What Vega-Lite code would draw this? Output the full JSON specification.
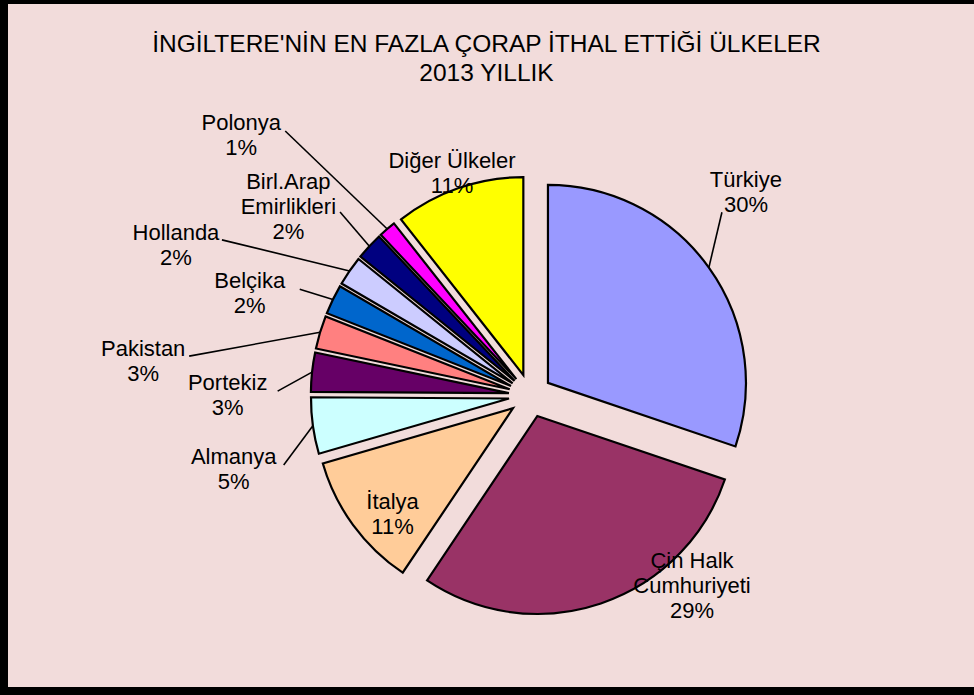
{
  "$schema": "https://vega.github.io/schema/vega-lite/v6.json",
  "width": 984,
  "height": 691,
  "autosize": {"type": "none"},
  "padding": {"left": 4, "top": 0, "right": -14, "bottom": 4},
  "background": "#F2DCDB",
  "config": {
    "view": {"stroke": "black", "strokeWidth": 8, "fill": null},
    "text": {"font": "Liberation Sans", "fontSize": 22, "lineBreak": "\n", "lineHeight": 25, "align": "center", "baseline": "middle", "color": "black", "x": 526.4, "y": 395.5},
    "rule": {"color": "black", "strokeWidth": 1.6}
  },
  "title": {
    "text": ["İNGİLTERE'NİN EN FAZLA ÇORAP İTHAL ETTİĞİ ÜLKELER", "2013 YILLIK"],
    "font": "Liberation Sans",
    "fontSize": 24.5,
    "fontWeight": "normal",
    "color": "black",
    "anchor": "middle",
    "baseline": "bottom",
    "lineHeight": 29,
    "offset": -110,
    "dx": -9.5
  },
  "data": {
    "values": [
      {"order": 1, "name": "Türkiye", "share": 0.302, "label": "Türkiye\n30%"},
      {"order": 2, "name": "Çin Halk Cumhuriyeti", "share": 0.292, "label": "Çin Halk\nCumhuriyeti\n29%"},
      {"order": 3, "name": "İtalya", "share": 0.111, "label": "İtalya\n11%"},
      {"order": 4, "name": "Almanya", "share": 0.046, "label": "Almanya\n5%"},
      {"order": 5, "name": "Portekiz", "share": 0.032, "label": "Portekiz\n3%"},
      {"order": 6, "name": "Pakistan", "share": 0.027, "label": "Pakistan\n3%"},
      {"order": 7, "name": "Belçika", "share": 0.024, "label": "Belçika\n2%"},
      {"order": 8, "name": "Hollanda", "share": 0.024, "label": "Hollanda\n2%"},
      {"order": 9, "name": "Birl.Arap Emirlikleri", "share": 0.022, "label": "Birl.Arap\nEmirlikleri\n2%"},
      {"order": 10, "name": "Polonya", "share": 0.014, "label": "Polonya\n1%"},
      {"order": 11, "name": "Diğer Ülkeler", "share": 0.106, "label": "Diğer Ülkeler\n11%"}
    ]
  },
  "transform": [
    {"stack": "share", "groupby": [], "sort": [{"field": "order", "order": "ascending"}], "as": ["s0", "s1"]}
  ],
  "layer": [
    {
      "transform": [{"filter": {"field": "name", "oneOf": ["Türkiye"]}}],
      "mark": {"type": "rule"},
      "encoding": {
        "x": {"value": {"expr": "526.4 + 219.6 * sin(PI * (datum.s0 + datum.s1))"}},
        "y": {"value": {"expr": "395.5 - 219.6 * cos(PI * (datum.s0 + datum.s1))"}},
        "x2": {"value": {"expr": "526.4 + 305 * sin(PI * (datum.s0 + datum.s1) - 0.164) - 24"}},
        "y2": {"value": {"expr": "395.5 - 305 * cos(PI * (datum.s0 + datum.s1) - 0.164) + 32.5"}}
      }
    },
    {
      "transform": [{"filter": {"field": "name", "oneOf": ["Birl.Arap Emirlikleri"]}}],
      "mark": {"type": "rule"},
      "encoding": {
        "x": {"value": {"expr": "526.4 + 219.6 * sin(PI * (datum.s0 + datum.s1))"}},
        "y": {"value": {"expr": "395.5 - 219.6 * cos(PI * (datum.s0 + datum.s1))"}},
        "x2": {"value": {"expr": "526.4 + 323 * sin(PI * (datum.s0 + datum.s1) - 0.024) + 51.7"}},
        "y2": {"value": {"expr": "395.5 - 323 * cos(PI * (datum.s0 + datum.s1) - 0.024) + 30.4"}}
      }
    },
    {
      "transform": [{"filter": {"field": "name", "oneOf": ["Polonya"]}}],
      "mark": {"type": "rule"},
      "encoding": {
        "x": {"value": {"expr": "526.4 + 219.6 * sin(PI * (datum.s0 + datum.s1))"}},
        "y": {"value": {"expr": "395.5 - 219.6 * cos(PI * (datum.s0 + datum.s1))"}},
        "x2": {"value": {"expr": "526.4 + 397 * sin(PI * (datum.s0 + datum.s1) - 0.106) + 44"}},
        "y2": {"value": {"expr": "395.5 - 397 * cos(PI * (datum.s0 + datum.s1) - 0.106) + 7.5"}}
      }
    },
    {
      "transform": [{"filter": {"field": "name", "oneOf": ["Hollanda", "Pakistan"]}}],
      "mark": {"type": "rule"},
      "encoding": {
        "x": {"value": {"expr": "526.4 + 219.6 * sin(PI * (datum.s0 + datum.s1))"}},
        "y": {"value": {"expr": "395.5 - 219.6 * cos(PI * (datum.s0 + datum.s1))"}},
        "x2": {"value": {"expr": "526.4 + 390 * sin(PI * (datum.s0 + datum.s1) - 0.173) + 46"}},
        "y2": {"value": {"expr": "395.5 - 390 * cos(PI * (datum.s0 + datum.s1) - 0.173) + 7"}}
      }
    },
    {
      "transform": [{"filter": {"field": "name", "oneOf": ["Almanya", "Portekiz", "Belçika"]}}],
      "mark": {"type": "rule"},
      "encoding": {
        "x": {"value": {"expr": "526.4 + 219.6 * sin(PI * (datum.s0 + datum.s1))"}},
        "y": {"value": {"expr": "395.5 - 219.6 * cos(PI * (datum.s0 + datum.s1))"}},
        "x2": {"value": {"expr": "526.4 + 303 * sin(PI * (datum.s0 + datum.s1) - 0.066) + 50"}},
        "y2": {"value": {"expr": "395.5 - 303 * cos(PI * (datum.s0 + datum.s1) - 0.066) + 8"}}
      }
    },
    {
      "encoding": {
        "theta": {"field": "share", "type": "quantitative", "stack": true},
        "order": {"field": "order", "type": "quantitative"}
      },
      "layer": [
        {
          "mark": {"type": "arc", "outerRadius": 198, "stroke": "black", "strokeWidth": 2.2},
          "encoding": {
            "color": {
              "field": "name",
              "type": "nominal",
              "scale": {
                "domain": ["Türkiye", "Çin Halk Cumhuriyeti", "İtalya", "Almanya", "Portekiz", "Pakistan", "Belçika", "Hollanda", "Birl.Arap Emirlikleri", "Polonya", "Diğer Ülkeler"],
                "range": ["#9999FF", "#993366", "#FFCC99", "#CCFFFF", "#660066", "#FF8080", "#0066CC", "#CCCCFF", "#000080", "#FF00FF", "#FFFF00"]
              },
              "legend": null
            },
            "x": {"value": {"expr": "526.4 + 21.6 * sin(PI * (datum.share_start + datum.share_end))"}},
            "y": {"value": {"expr": "395.5 - 21.6 * cos(PI * (datum.share_start + datum.share_end))"}}
          }
        },
        {
          "mark": {"type": "text", "radius": 305, "thetaOffset": -0.164},
          "encoding": {
            "detail": {"field": "name", "type": "nominal"},
            "text": {"field": "label", "type": "nominal"},
            "opacity": {"condition": {"test": {"field": "name", "oneOf": ["Türkiye"]}, "value": 1}, "value": 0}
          }
        },
        {
          "mark": {"type": "text", "radius": 231, "thetaOffset": -0.448},
          "encoding": {
            "detail": {"field": "name", "type": "nominal"},
            "text": {"field": "label", "type": "nominal"},
            "opacity": {"condition": {"test": {"field": "name", "oneOf": ["Çin Halk Cumhuriyeti"]}, "value": 1}, "value": 0}
          }
        },
        {
          "mark": {"type": "text", "radius": 174, "thetaOffset": -0.025},
          "encoding": {
            "detail": {"field": "name", "type": "nominal"},
            "text": {"field": "label", "type": "nominal"},
            "opacity": {"condition": {"test": {"field": "name", "oneOf": ["İtalya"]}, "value": 1}, "value": 0}
          }
        },
        {
          "mark": {"type": "text", "radius": 247, "thetaOffset": 0.01},
          "encoding": {
            "detail": {"field": "name", "type": "nominal"},
            "text": {"field": "label", "type": "nominal"},
            "opacity": {"condition": {"test": {"field": "name", "oneOf": ["Diğer Ülkeler"]}, "value": 1}, "value": 0}
          }
        },
        {
          "mark": {"type": "text", "radius": 303, "thetaOffset": -0.066},
          "encoding": {
            "detail": {"field": "name", "type": "nominal"},
            "text": {"field": "label", "type": "nominal"},
            "opacity": {"condition": {"test": {"field": "name", "oneOf": ["Almanya", "Portekiz", "Belçika"]}, "value": 1}, "value": 0}
          }
        },
        {
          "mark": {"type": "text", "radius": 323, "thetaOffset": -0.024},
          "encoding": {
            "detail": {"field": "name", "type": "nominal"},
            "text": {"field": "label", "type": "nominal"},
            "opacity": {"condition": {"test": {"field": "name", "oneOf": ["Birl.Arap Emirlikleri"]}, "value": 1}, "value": 0}
          }
        },
        {
          "mark": {"type": "text", "radius": 397, "thetaOffset": -0.106},
          "encoding": {
            "detail": {"field": "name", "type": "nominal"},
            "text": {"field": "label", "type": "nominal"},
            "opacity": {"condition": {"test": {"field": "name", "oneOf": ["Polonya"]}, "value": 1}, "value": 0}
          }
        },
        {
          "mark": {"type": "text", "radius": 390, "thetaOffset": -0.173},
          "encoding": {
            "detail": {"field": "name", "type": "nominal"},
            "text": {"field": "label", "type": "nominal"},
            "opacity": {"condition": {"test": {"field": "name", "oneOf": ["Hollanda", "Pakistan"]}, "value": 1}, "value": 0}
          }
        }
      ]
    }
  ]
}
